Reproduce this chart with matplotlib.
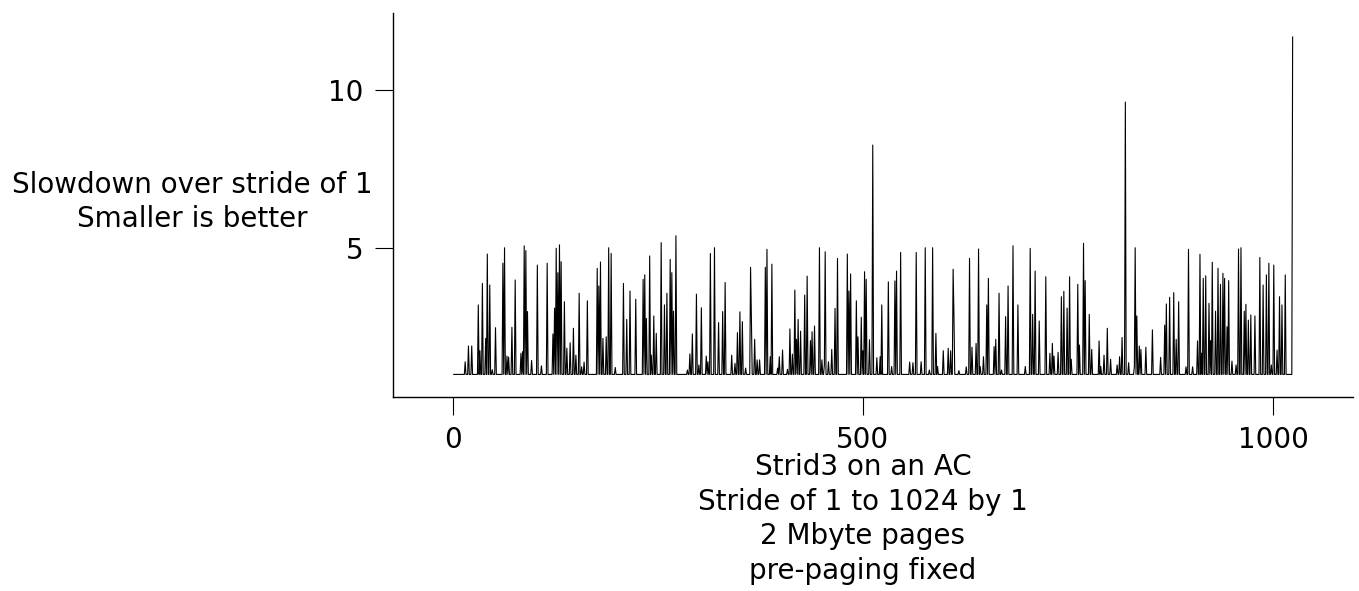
import numpy as np
import matplotlib
matplotlib.use("Agg")
import matplotlib.pyplot as plt

# strides with a slowdown above the flat baseline of 1
spike_stride = [
    15, 19, 23, 31, 33, 36, 40, 42, 45, 48, 52, 61, 63, 66, 68, 72, 76, 83, 85, 87,
    89, 91, 96, 103, 108, 115, 122, 124, 126, 128, 130, 132, 136, 139, 143, 147, 150, 154, 157, 160,
    164, 176, 178, 180, 183, 187, 190, 193, 198, 208, 212, 216, 223, 232, 234, 236, 240, 242, 245, 248,
    254, 258, 261, 265, 267, 269, 272, 286, 289, 292, 297, 300, 303, 309, 311, 314, 319, 324, 329, 332,
    340, 344, 347, 350, 353, 357, 363, 364, 368, 371, 374, 381, 383, 387, 389, 396, 398, 402, 408, 411,
    414, 417, 419, 421, 424, 429, 432, 436, 438, 441, 447, 450, 453, 454, 458, 462, 466, 469, 481, 483,
    485, 492, 494, 498, 500, 502, 504, 508, 512, 517, 521, 523, 531, 535, 539, 541, 546, 557, 561, 565,
    571, 576, 581, 585, 589, 591, 598, 604, 607, 610, 611, 617, 626, 630, 633, 638, 641, 643, 647, 651,
    653, 660, 662, 666, 669, 674, 677, 683, 689, 698, 704, 707, 710, 715, 723, 728, 731, 733, 738, 742,
    745, 749, 752, 754, 762, 764, 769, 771, 776, 779, 788, 790, 794, 798, 802, 810, 813, 816, 820, 824,
    831, 832, 834, 837, 839, 845, 853, 863, 868, 870, 874, 879, 882, 885, 894, 897, 902, 908, 911, 913,
    915, 918, 922, 924, 926, 930, 933, 936, 939, 941, 944, 946, 950, 955, 958, 961, 965, 967, 970, 973,
    978, 984, 988, 992, 995, 998, 1001, 1005, 1008, 1011, 1015, 1024,
]
spike_value = [
    1.40, 1.90, 1.90, 3.20, 1.75, 3.88, 2.14, 4.81, 3.83, 1.15, 2.48, 4.52, 5.01, 1.58, 1.55, 2.49, 3.99, 1.67, 1.72, 5.07,
    4.92, 2.99, 1.44, 4.46, 1.27, 4.52, 2.28, 3.10, 4.99, 4.22, 5.10, 4.57, 3.30, 1.83, 2.00, 2.46, 1.61, 3.57, 1.24, 1.39,
    3.33, 4.36, 3.80, 4.56, 2.14, 2.19, 5.01, 4.83, 1.22, 3.88, 2.74, 3.64, 3.38, 4.01, 4.15, 2.77, 4.75, 1.61, 2.85, 2.30,
    5.17, 3.20, 3.57, 4.64, 4.22, 3.00, 5.39, 1.14, 1.65, 2.28, 3.54, 1.30, 3.11, 1.58, 1.40, 4.83, 5.01, 2.64, 2.99, 3.91,
    1.61, 1.35, 2.32, 2.98, 2.67, 1.20, 4.39, 2.81, 2.11, 1.46, 1.46, 4.39, 4.96, 1.56, 4.49, 1.20, 1.56, 1.77, 1.16, 2.44,
    1.64, 3.67, 2.11, 2.74, 2.37, 3.51, 4.11, 2.07, 2.35, 2.53, 5.01, 1.46, 1.30, 4.88, 1.40, 1.79, 3.09, 4.67, 4.81, 3.64,
    4.18, 3.33, 2.19, 2.81, 1.75, 4.25, 4.01, 2.10, 8.26, 1.53, 1.56, 3.20, 3.93, 1.25, 3.96, 4.27, 4.86, 1.39, 1.37, 4.86,
    1.40, 5.01, 1.14, 5.01, 2.30, 1.25, 1.75, 1.83, 1.75, 4.33, 2.85, 1.12, 1.24, 4.67, 1.86, 1.98, 4.97, 1.25, 1.56, 3.20,
    4.04, 1.88, 2.11, 3.57, 1.14, 2.83, 3.80, 5.07, 3.20, 1.25, 4.99, 2.90, 4.27, 2.69, 4.09, 1.67, 1.98, 1.58, 1.70, 3.46,
    3.63, 3.10, 4.09, 1.48, 3.85, 1.93, 5.15, 3.97, 2.90, 1.79, 2.06, 1.25, 1.61, 2.46, 1.48, 1.30, 1.56, 2.17, 9.62, 1.37,
    1.24, 5.01, 2.85, 1.90, 1.79, 1.86, 2.41, 1.54, 2.56, 3.23, 3.44, 3.59, 2.11, 3.30, 1.24, 4.96, 1.24, 2.06, 4.80, 1.67,
    4.04, 4.12, 3.25, 2.07, 4.55, 3.00, 4.36, 3.85, 4.20, 4.04, 2.51, 3.97, 1.42, 1.30, 4.97, 5.01, 3.00, 3.22, 2.72, 2.88,
    2.85, 4.70, 3.83, 4.15, 4.52, 1.30, 4.46, 1.77, 3.46, 3.20, 4.15, 11.68,
]
baseline = 1.0
n_strides = 1024

stride = np.arange(1, n_strides + 1)
slowdown = np.full(n_strides, baseline)
slowdown[np.array(spike_stride) - 1] = spike_value

fig = plt.figure(figsize=(13.59, 5.91), dpi=100)
ax = fig.add_axes([393 / 1359, 1 - 397 / 591, 960 / 1359, 384 / 591])

ax.plot(stride, slowdown, color="black", lw=0.8)

ax.set_xlim(-73, 1097.6)
ax.set_ylim(0.285, 12.44)
ax.set_xticks([0, 500, 1000])
ax.set_yticks([5, 10])

for side in ["top", "right"]:
    ax.spines[side].set_visible(False)
for side in ["left", "bottom"]:
    ax.spines[side].set_linewidth(1.0)

ax.tick_params(direction="out", length=13, width=0.8, labelsize=20, pad=8)

fig.text(192 / 1359, 1 - 202 / 591, "Slowdown over stride of 1\nSmaller is better",
         ha="center", va="center", fontsize=20, linespacing=1.3)
fig.text(863 / 1359, 1 - 519 / 591,
         "Strid3 on an AC\nStride of 1 to 1024 by 1\n2 Mbyte pages\npre-paging fixed",
         ha="center", va="center", fontsize=20, linespacing=1.3)

fig.savefig("out.png", dpi=100)
